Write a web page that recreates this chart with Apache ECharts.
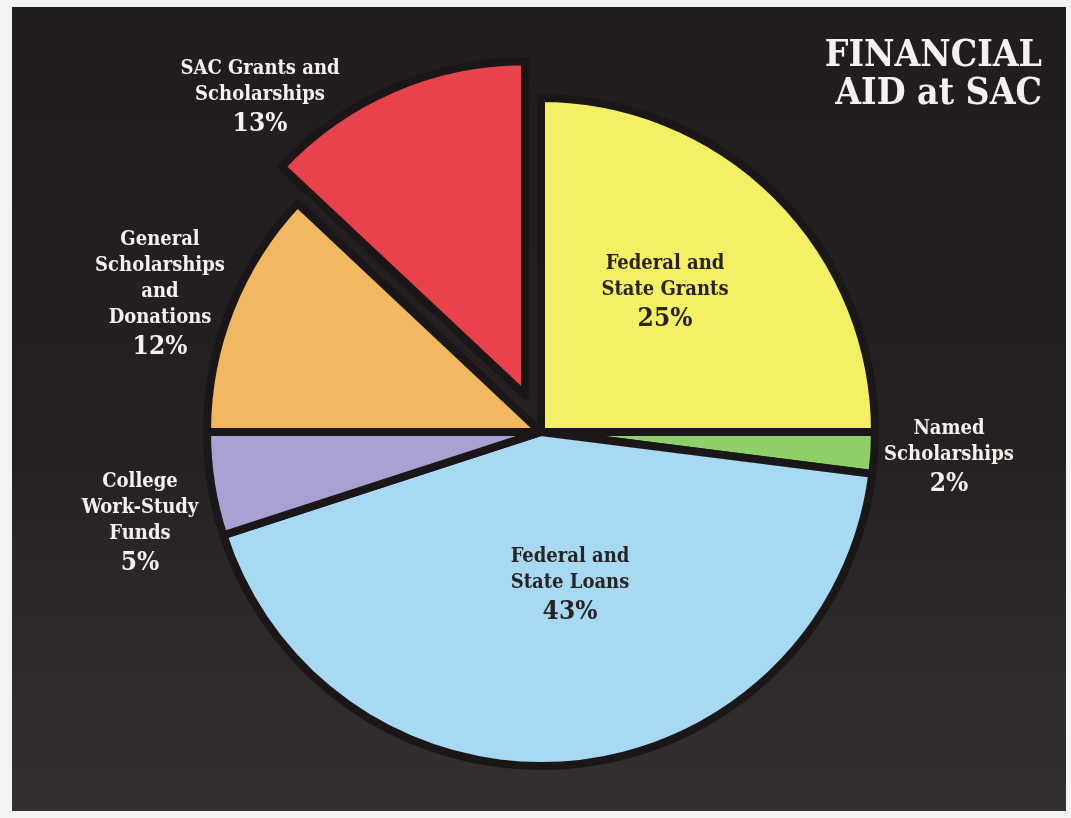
<!DOCTYPE html>
<html>
<head>
<meta charset="utf-8">
<script src="https://cdn.jsdelivr.net/npm/echarts@6/dist/echarts.min.js"></script>
<style>
html,body{margin:0;padding:0;background:#f3f3f3;}
#chart{width:1071px;height:818px;}
</style>
</head>
<body>
<div id="chart"></div>
<script>
// ---- data ----
const categories = [
  "Federal and\nState Grants",
  "Named\nScholarships",
  "Federal and\nState Loans",
  "College\nWork-Study\nFunds",
  "General\nScholarships\nand\nDonations",
  "SAC Grants and\nScholarships"
];
const percents = [25, 2, 43, 5, 12, 13];
const sliceColors = ["#f4f064", "#8ecf6a", "#a8d9f2", "#a9a0d4", "#f1b860", "#e8424a"];
const titleLines = ["FINANCIAL", "AID at SAC"];
const explodedIndex = 5;

// ---- layout (not data) ----
const CENTER = [541, 432];
const RADIUS = 334;
const EXPLODE = 40;
// label block centre offsets relative to pie centre
const labelOffsets = [
  [124, -139],
  [408, 26],
  [29, 154],
  [-401, 92],
  [-381, -137],
  [-281, -334]
];
const insideLabel = [true, false, true, false, false, false];
const FONT = "'DejaVu Serif Condensed', 'DejaVu Serif', serif";
const BORDER = '#1b1718';

// exploded slice: centre shifted along its bisector (angle derived from data)
const total = percents.reduce((a, b) => a + b, 0);
const before = percents.slice(0, explodedIndex).reduce((a, b) => a + b, 0);
const midFrac = (before + percents[explodedIndex] / 2) / total;
const midAngle = (90 - midFrac * 360) * Math.PI / 180;
const CENTER2 = [CENTER[0] + EXPLODE * Math.cos(midAngle), CENTER[1] - EXPLODE * Math.sin(midAngle)];

const chart = echarts.init(document.getElementById('chart'), null, {renderer: 'canvas'});

const dataA = categories.map((c, i) => ({
  name: c,
  value: percents[i],
  itemStyle: i === explodedIndex
    ? {color: 'transparent', borderWidth: 0}
    : {color: sliceColors[i]},
  label: {color: insideLabel[i] ? '#2a2323' : '#f4f1ee'}
}));
const dataB = categories.map((c, i) => ({
  name: c,
  value: percents[i],
  itemStyle: i === explodedIndex
    ? {color: sliceColors[i]}
    : {color: 'transparent', borderWidth: 0}
}));

const common = {
  type: 'pie',
  radius: RADIUS,
  startAngle: 90,
  clockwise: true,
  avoidLabelOverlap: false,
  emphasis: {disabled: true},
  itemStyle: {borderColor: BORDER, borderWidth: 8},
  labelLine: {show: false}
};

chart.setOption({
  backgroundColor: '#f3f3f3',
  animation: false,
  graphic: [{
    type: 'rect',
    z: -10,
    shape: {x: 12, y: 7, width: 1054, height: 804},
    style: {
      fill: new echarts.graphic.LinearGradient(0, 0, 0, 1, [
        {offset: 0, color: '#211d1f'},
        {offset: 0.55, color: '#252122'},
        {offset: 1, color: '#352f2f'}
      ])
    }
  }],
  title: {
    text: titleLines.join('\n'),
    left: 1037,
    top: 32,
    textAlign: 'right',
    textStyle: {
      color: '#f4f2f0',
      fontFamily: FONT,
      fontWeight: 'bold',
      fontSize: 37,
      lineHeight: 38
    }
  },
  series: [
    Object.assign({}, common, {
      center: CENTER,
      label: {
        show: true,
        position: 'inside',
        fontFamily: FONT,
        fontWeight: 'bold',
        align: 'center',
        formatter: p => p.name.split('\n').map(s => '{n|' + s + '}').join('\n') + '\n{p|' + p.value + '%}',
        rich: {
          n: {fontFamily: FONT, fontWeight: 'bold', fontSize: 20, lineHeight: 26, align: 'center'},
          p: {fontFamily: FONT, fontWeight: 'bold', fontSize: 26, lineHeight: 32, align: 'center'}
        }
      },
      labelLayout: function (params) {
        const o = labelOffsets[params.dataIndex];
        return {x: CENTER[0] + o[0], y: CENTER[1] + o[1], align: 'center', verticalAlign: 'middle', hideOverlap: false};
      },
      data: dataA
    }),
    Object.assign({}, common, {
      center: CENTER2,
      silent: true,
      label: {show: false},
      data: dataB
    })
  ]
});
</script>
</body>
</html>
